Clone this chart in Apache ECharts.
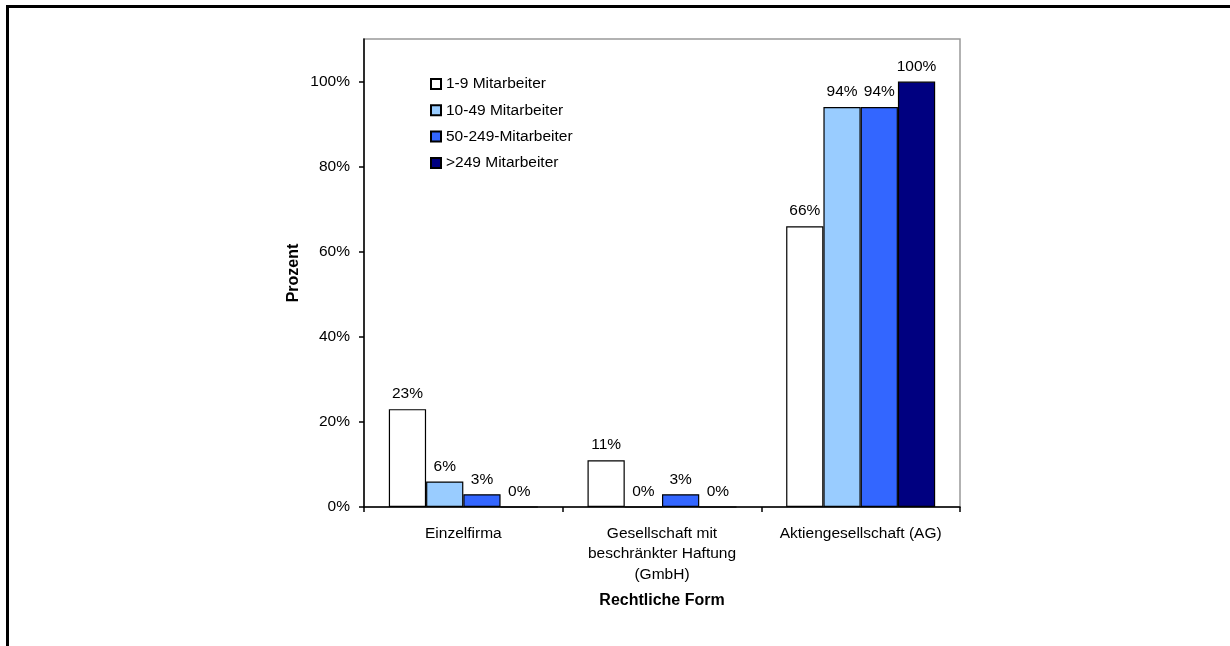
<!DOCTYPE html>
<html>
<head>
<meta charset="utf-8">
<script src="https://cdn.jsdelivr.net/npm/echarts@6/dist/echarts.min.js"></script>
<style>
  html, body { margin: 0; padding: 0; background: #fff; }
  #chart { width: 1230px; height: 646px; }
</style>
</head>
<body>
<div id="chart"></div>
<script>
// Rechtliche Form nach Unternehmensgröße (Anteil in Prozent)
const categories = ['Einzelfirma', 'Gesellschaft mit\nbeschränkter Haftung\n(GmbH)', 'Aktiengesellschaft (AG)'];
const seriesNames = ['1-9 Mitarbeiter', '10-49 Mitarbeiter', '50-249-Mitarbeiter', '>249 Mitarbeiter'];
const size1to9 = [23, 11, 66];
const size10to49 = [6, 0, 94];
const size50to249 = [3, 3, 94];
const sizeOver249 = [0, 0, 100];
const yTicks = [0, 20, 40, 60, 80, 100];

const colors = ['#FFFFFF', '#99CCFF', '#3366FF', '#000080'];
const seriesData = [size1to9, size10to49, size50to249, sizeOver249];
const FONT = 'Liberation Sans, Arial, sans-serif';
const FS = 15.5;

const chart = echarts.init(document.getElementById('chart'), null, { renderer: 'canvas' });

chart.setOption({
  backgroundColor: '#fff',
  animation: false,
  textStyle: { fontFamily: FONT, color: '#000' },
  graphic: [{
    type: 'polyline',
    shape: { points: [[7.5, 646], [7.5, 6.5], [1230, 6.5]] },
    style: { stroke: '#000', lineWidth: 3, fill: null },
    silent: true
  }],
  grid: {
    left: 364, right: 270, top: 39, bottom: 139,
    show: true, borderColor: '#999', borderWidth: 1.5, backgroundColor: 'transparent'
  },
  legend: {
    orient: 'vertical',
    left: 430, top: 76,
    padding: 0,
    icon: 'rect',
    itemWidth: 10, itemHeight: 10, itemGap: 10.3,
    textStyle: { fontFamily: FONT, fontSize: FS, color: '#000' },
    data: seriesNames
  },
  xAxis: {
    type: 'category',
    data: categories,
    name: 'Rechtliche Form',
    nameLocation: 'middle',
    nameGap: 86,
    nameTextStyle: { fontFamily: FONT, fontSize: 16, fontWeight: 'bold', color: '#000' },
    axisLine: { lineStyle: { color: '#000', width: 1.5 } },
    axisTick: { show: true, length: 5, alignWithLabel: false, lineStyle: { color: '#000', width: 1.5 } },
    axisLabel: { fontFamily: FONT, fontSize: FS, color: '#000', margin: 16, lineHeight: 20.5, interval: 0 },
    splitLine: { show: false }
  },
  yAxis: {
    type: 'value',
    min: 0, max: 110, interval: 20,
    name: 'Prozent',
    nameLocation: 'middle',
    nameGap: 62,
    nameRotate: 90,
    nameTextStyle: { fontFamily: FONT, fontSize: 16, fontWeight: 'bold', color: '#000' },
    axisLine: { show: true, lineStyle: { color: '#000', width: 1.5 } },
    axisTick: { show: true, length: 5, customValues: yTicks, lineStyle: { color: '#000', width: 1.5 } },
    axisLabel: {
      fontFamily: FONT, fontSize: FS, color: '#000', margin: 14,
      customValues: yTicks,
      formatter: v => v + '%'
    },
    splitLine: { show: false }
  },
  series: seriesNames.map((name, i) => ({
    name: name,
    type: 'bar',
    data: seriesData[i],
    barGap: '0%',
    barCategoryGap: '25%',
    itemStyle: { color: colors[i], borderColor: '#000', borderWidth: 1.2 },
    label: {
      show: true,
      position: 'top',
      distance: 7,
      fontFamily: FONT,
      fontSize: FS,
      color: '#000',
      formatter: p => p.value + '%'
    }
  }))
});
</script>
</body>
</html>
